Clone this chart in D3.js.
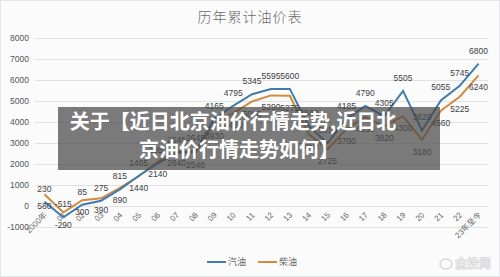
<!DOCTYPE html>
<html>
<head>
<meta charset="utf-8">
<script src="https://cdn.jsdelivr.net/npm/d3@7"></script>
<style>
  html,body{margin:0;padding:0;background:#f8f8fa;}
  svg{display:block;}
</style>
</head>
<body>
<svg id="chart"></svg>
<script>
// categories and values
const years=['2000年','01','02','03','04','05','06','07','08','09','10','11','12','13','14','15','16','17','18','19','20','21','22','23年至今'];
const gasoline=[230,-515,85,275,815,1465,2050,2545,2645,4165,4795,5345,5595,5600,3840,3010,4185,4790,4305,5505,3620,5055,5745,6800];
const diesel=[580,-290,300,390,890,1440,2140,2640,2540,3930,4450,5000,5290,5275,3450,2725,3700,4250,3820,4300,3180,4560,5225,6240];
const yTicks=[-1000,0,1000,2000,3000,4000,5000,6000,7000,8000];
const seriesNames=['汽油','柴油'];

const w=500,h=277;
const blue='#3f7cad', orange='#d48a3c';

let svg=d3.select('#chart').attr('width',w).attr('height',h).attr('viewBox',`0 0 ${w} ${h}`);

svg.append('rect').attr('x',0.5).attr('y',0.5).attr('width',w-1).attr('height',h-1)
  .attr('fill','#fbfbfc').attr('stroke','#e4e6ea');

const x=d3.scalePoint().domain(years).range([35,488]).padding(0.5);
const y=d3.scaleLinear().domain([-1000,8000]).range([227.5,38.5]);

// title
svg.append('text').attr('x',250).attr('y',22).attr('text-anchor','middle')
  .attr('font-family','"Noto Sans CJK SC"').attr('font-size',14).attr('font-weight',300)
  .attr('fill','#6a6a6a').attr('letter-spacing',1).text('历年累计油价表');

// grid + y labels
let grid=svg.append('g');
grid.selectAll('line').data(yTicks).join('line')
  .attr('x1',35).attr('x2',488)
  .attr('y1',d=>y(d)).attr('y2',d=>y(d))
  .attr('stroke','#e2e2e2').attr('stroke-width',1);
grid.selectAll('text').data(yTicks).join('text')
  .attr('x',29).attr('y',d=>y(d)).attr('dy','0.35em')
  .attr('text-anchor','end')
  .attr('font-family','"Liberation Sans"').attr('font-size',8.5)
  .attr('fill','#555').text(d=>d);

// x labels
svg.append('g').selectAll('text').data(years).join('text')
  .attr('transform',d=>`translate(${x(d)+3},${y(0)+9}) rotate(-45)`)
  .attr('text-anchor','end')
  .attr('font-family','"Liberation Sans","Noto Sans CJK SC"').attr('font-size',8)
  .attr('fill','#666').text(d=>d);

// lines
const line=d3.line().x((d,i)=>x(years[i])).y(d=>y(d));
svg.append('path').datum(diesel).attr('d',line)
  .attr('fill','none').attr('stroke',orange).attr('stroke-width',2);
svg.append('path').datum(gasoline).attr('d',line)
  .attr('fill','none').attr('stroke',blue).attr('stroke-width',2);

// data labels: gasoline above, diesel below
const lab=svg.append('g').attr('font-family','"Liberation Sans"').attr('font-size',8.5)
  .attr('fill','#404040').attr('text-anchor','middle');
lab.selectAll('text.g').data(gasoline).join('text').attr('class','g')
  .attr('x',(d,i)=>x(years[i])).attr('y',d=>y(d)-10).text(d=>d);
lab.selectAll('text.d').data(diesel).join('text').attr('class','d')
  .attr('x',(d,i)=>x(years[i])).attr('y',d=>y(d)+15).text(d=>d);

// legend
let leg=svg.append('g').attr('font-family','"Noto Sans CJK SC"').attr('font-size',9).attr('fill','#666');
[[blue,207],[orange,258]].forEach(([c,lx],i)=>{
  leg.append('line').attr('x1',lx).attr('x2',lx+19).attr('y1',262).attr('y2',262)
    .attr('stroke',c).attr('stroke-width',2);
  leg.append('text').attr('x',lx+21).attr('y',262).attr('dy','0.35em').text(seriesNames[i]);
});

// watermark
let wm=svg.append('g').attr('opacity',0.55);
wm.append('ellipse').attr('cx',446).attr('cy',264).attr('rx',6).attr('ry',5)
  .attr('fill','none').attr('stroke','#bbb').attr('stroke-width',1.5);
wm.append('text').attr('x',455).attr('y',268).attr('font-family','"Noto Sans CJK SC"')
  .attr('font-size',12).attr('font-weight',700).attr('fill','#fff').attr('stroke','#bbb')
  .attr('stroke-width',0.8).text('金投网');

// caption overlay
svg.append('rect').attr('x',58).attr('y',107).attr('width',382).attr('height',63)
  .attr('fill','rgba(72,72,72,0.72)');
let cap=svg.append('g').attr('font-family','"Noto Sans CJK SC"').attr('font-size',20)
  .attr('font-weight',700).attr('fill','#fff').attr('text-anchor','middle');
cap.append('text').attr('x',233).attr('y',129).text('关于【近日北京油价行情走势,近日北');
cap.append('text').attr('x',239).attr('y',157).text('京油价行情走势如何】');
</script>
</body>
</html>
